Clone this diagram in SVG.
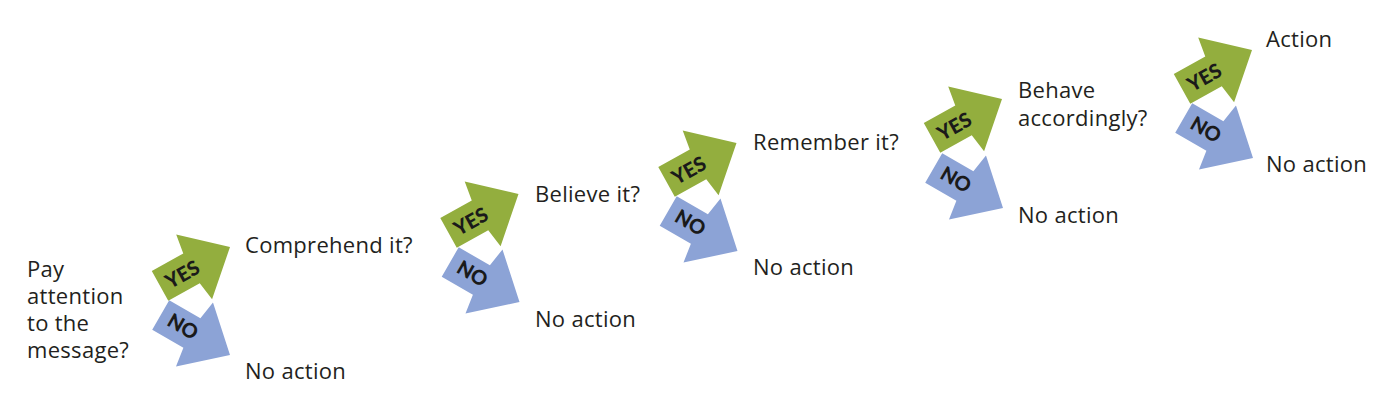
<svg xmlns="http://www.w3.org/2000/svg" xmlns:xlink="http://www.w3.org/1999/xlink" width="1386" height="410" viewBox="0 0 1386 410">
<defs>
<path id="arrow" d="M0,0 L-41,-37 L-44,-17 L-80,-17 L-80,17 L-44,17 L-41,37 Z"/>
<style>
.t{font-family:"Open Sans","Lato","Liberation Sans",sans-serif;font-size:22px;letter-spacing:0.3px;fill:#231f20}
.yes{fill:#93ae3e}
.no{fill:#8ca3d6}
.lab{font-family:"Lato","Liberation Sans",sans-serif;font-weight:900;font-size:20px;fill:#1a1a1a;text-anchor:middle}
</style>
</defs>
<rect width="1386" height="410" fill="#ffffff"/>
<g id="q0"><text class="t" x="27" y="277">Pay</text><text class="t" x="27" y="304">attention</text><text class="t" x="27" y="331">to the</text><text class="t" x="27" y="358">message?</text></g>

<g id="yes1" transform="translate(230,247) rotate(-29)"><use xlink:href="#arrow" class="yes"/><text class="lab" x="-55" y="8">YES</text></g>
<g id="no1" transform="translate(230,355) rotate(30)"><use xlink:href="#arrow" class="no"/><text class="lab" x="-55" y="6">NO</text></g>
<g id="q1"><text class="t" x="245" y="253">Comprehend it?</text></g>
<g id="n1"><text class="t" x="245" y="379">No action</text></g>

<g id="yes2" transform="translate(518.5,194) rotate(-29)"><use xlink:href="#arrow" class="yes"/><text class="lab" x="-55" y="8">YES</text></g>
<g id="no2" transform="translate(519.5,302) rotate(30)"><use xlink:href="#arrow" class="no"/><text class="lab" x="-55" y="6">NO</text></g>
<g id="q2"><text class="t" x="535" y="202">Believe it?</text></g>
<g id="n2"><text class="t" x="535" y="327">No action</text></g>

<g id="yes3" transform="translate(736.5,143) rotate(-29)"><use xlink:href="#arrow" class="yes"/><text class="lab" x="-55" y="8">YES</text></g>
<g id="no3" transform="translate(737.5,251) rotate(30)"><use xlink:href="#arrow" class="no"/><text class="lab" x="-55" y="6">NO</text></g>
<g id="q3"><text class="t" x="753" y="150">Remember it?</text></g>
<g id="n3"><text class="t" x="753" y="275">No action</text></g>

<g id="yes4" transform="translate(1002,99) rotate(-29)"><use xlink:href="#arrow" class="yes"/><text class="lab" x="-55" y="8">YES</text></g>
<g id="no4" transform="translate(1003,208) rotate(30)"><use xlink:href="#arrow" class="no"/><text class="lab" x="-55" y="6">NO</text></g>
<g id="q4"><text class="t" x="1018" y="98">Behave</text><text class="t" x="1018" y="126">accordingly?</text></g>
<g id="n4"><text class="t" x="1018" y="223">No action</text></g>

<g id="yes5" transform="translate(1252,50) rotate(-29)"><use xlink:href="#arrow" class="yes"/><text class="lab" x="-55" y="8">YES</text></g>
<g id="no5" transform="translate(1253,158) rotate(30)"><use xlink:href="#arrow" class="no"/><text class="lab" x="-55" y="6">NO</text></g>
<g id="q5"><text class="t" x="1266" y="47">Action</text></g>
<g id="n5"><text class="t" x="1266" y="172">No action</text></g>
</svg>
